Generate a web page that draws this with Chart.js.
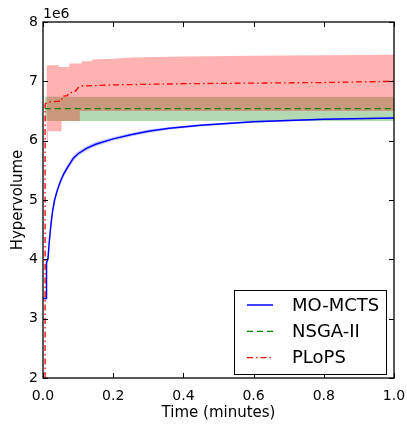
<!DOCTYPE html>
<html>
<head>
<meta charset="utf-8">
<script src="https://cdn.jsdelivr.net/npm/chart.js@4/dist/chart.umd.min.js"></script>
<style>
  html, body { margin: 0; padding: 0; background: #fff; }
  #wrap { width: 407px; height: 426px; }
</style>
</head>
<body>
<div id="wrap"><canvas id="js--chart"></canvas></div>
<script>
// hypervolume values are in units of 1e6
const tMcts = [0, 0.009, 0.01, 0.014, 0.018, 0.022, 0.027, 0.033, 0.04, 0.05, 0.06, 0.07, 0.086, 0.1, 0.124, 0.15, 0.2, 0.25, 0.3, 0.36, 0.45, 0.6, 0.8, 1.0];
const moMcts = [3.34, 3.34, 3.95, 4.0, 4.3, 4.55, 4.8, 5.0, 5.15, 5.32, 5.45, 5.55, 5.7, 5.78, 5.87, 5.94, 6.03, 6.1, 6.16, 6.21, 6.26, 6.32, 6.36, 6.38];
const moMctsLow = [3.3, 3.3, 3.9, 3.95, 4.24, 4.49, 4.74, 4.95, 5.1, 5.27, 5.4, 5.5, 5.65, 5.74, 5.83, 5.9, 6.0, 6.07, 6.13, 6.19, 6.24, 6.3, 6.35, 6.37];
const moMctsHigh = [3.38, 3.38, 4.0, 4.06, 4.36, 4.61, 4.86, 5.05, 5.2, 5.37, 5.5, 5.6, 5.75, 5.82, 5.91, 5.98, 6.06, 6.13, 6.19, 6.23, 6.28, 6.34, 6.37, 6.39];

const tNsga = [0.005, 1.0];
const nsga = [6.54, 6.54];
const nsgaLow = [6.33, 6.33];
const nsgaHigh = [6.74, 6.74];

const tPlops = [0.006, 0.006, 0.015, 0.053, 0.055, 0.07, 0.072, 0.09, 0.1, 0.11, 0.2, 0.4, 0.6, 0.8, 1.0];
const plops = [2.0, 6.62, 6.65, 6.67, 6.75, 6.76, 6.8, 6.82, 6.89, 6.92, 6.94, 6.96, 6.97, 6.98, 7.0];
const tPlopsBand = [0.01, 0.014, 0.014, 0.045, 0.045, 0.053, 0.053, 0.075, 0.075, 0.105, 0.105, 0.11, 0.11, 0.14, 0.14, 0.2, 0.25, 0.4, 0.6, 1.0];
const plopsLow = [5.98, 5.98, 6.16, 6.16, 6.16, 6.16, 6.33, 6.33, 6.33, 6.33, 6.5, 6.5, 6.5, 6.5, 6.5, 6.5, 6.5, 6.5, 6.5, 6.5];
const plopsHigh = [7.27, 7.27, 7.27, 7.27, 7.24, 7.24, 7.24, 7.24, 7.3, 7.3, 7.3, 7.3, 7.34, 7.34, 7.37, 7.38, 7.4, 7.42, 7.43, 7.45];

const xTicks = [0, 0.2, 0.4, 0.6, 0.8, 1.0];
const yTicks = [2, 3, 4, 5, 6, 7, 8];

const FONT = "'DejaVu Sans', sans-serif";

function pts(xs, ys) {
  return xs.map((x, i) => ({ x: x, y: ys[i] }));
}

function band(xs, ys, color, order) {
  return {
    data: pts(xs, ys), borderWidth: 0, borderColor: 'rgba(0,0,0,0)',
    backgroundColor: color, pointRadius: 0, order: order, isBand: true
  };
}

const datasets = [
  // green band
  Object.assign(band(tNsga, nsgaLow, 'rgba(0,0,0,0)', 6), { fill: false }),
  Object.assign(band(tNsga, nsgaHigh, 'rgba(0,128,0,0.3)', 6), { fill: '-1' }),
  // red band
  Object.assign(band(tPlopsBand, plopsLow, 'rgba(0,0,0,0)', 5), { fill: false }),
  Object.assign(band(tPlopsBand, plopsHigh, 'rgba(255,0,0,0.3)', 5), { fill: '-1' }),
  // blue band
  Object.assign(band(tMcts, moMctsLow, 'rgba(0,0,0,0)', 4), { fill: false }),
  Object.assign(band(tMcts, moMctsHigh, 'rgba(0,0,255,0.2)', 4), { fill: '-1' }),
  {
    label: 'MO-MCTS', data: pts(tMcts, moMcts), borderColor: '#0000ff', borderWidth: 1.5,
    pointRadius: 0, fill: false, order: 2
  },
  {
    label: 'NSGA-II', data: pts(tNsga, nsga), borderColor: '#007f00', borderWidth: 1.3,
    borderDash: [6, 4], pointRadius: 0, fill: false, order: 1
  },
  {
    label: 'PLoPS', data: pts(tPlops, plops), borderColor: '#ff0000', borderWidth: 1.3,
    borderDash: [6, 3, 1.5, 3], pointRadius: 0, fill: false, order: 0
  }
];

// frame, inward ticks, offset text and legend
const decorations = {
  id: 'decorations',
  afterDraw(chart) {
    const ctx = chart.ctx;
    const a = chart.chartArea;
    const xs = chart.scales.x, ys = chart.scales.y;
    ctx.save();
    ctx.strokeStyle = '#000';
    ctx.lineWidth = 1;
    ctx.beginPath();
    xTicks.forEach(v => {
      const px = Math.round(xs.getPixelForValue(v)) + 0.5;
      ctx.moveTo(px, a.bottom); ctx.lineTo(px, a.bottom - 5);
      ctx.moveTo(px, a.top); ctx.lineTo(px, a.top + 5);
    });
    yTicks.forEach(v => {
      const py = Math.round(ys.getPixelForValue(v)) + 0.5;
      ctx.moveTo(a.left, py); ctx.lineTo(a.left + 5, py);
      ctx.moveTo(a.right, py); ctx.lineTo(a.right - 5, py);
    });
    ctx.stroke();
    ctx.lineWidth = 1.3;
    ctx.strokeRect(a.left, a.top, a.right - a.left, a.bottom - a.top);

    ctx.fillStyle = '#000';
    ctx.font = '14px ' + FONT;
    ctx.textAlign = 'left';
    ctx.textBaseline = 'alphabetic';
    ctx.fillText('1e6', a.left, a.top - 4);

    // legend
    const lx = 234, ly = 290, lw = 152, lh = 84;
    ctx.fillStyle = '#fff';
    ctx.fillRect(lx, ly, lw, lh);
    ctx.lineWidth = 1;
    ctx.strokeStyle = '#000';
    ctx.strokeRect(lx + 0.5, ly + 0.5, lw, lh);
    ctx.font = '18px ' + FONT;
    ctx.textBaseline = 'middle';
    const items = chart.data.datasets.filter(d => !d.isBand);
    items.forEach((d, i) => {
      const cy = ly + 15 + i * 26.3;
      ctx.strokeStyle = d.borderColor;
      ctx.lineWidth = d.borderWidth;
      ctx.setLineDash(d.borderDash || []);
      ctx.beginPath();
      ctx.moveTo(lx + 13, cy); ctx.lineTo(lx + 39, cy);
      ctx.stroke();
      ctx.setLineDash([]);
      ctx.fillStyle = '#000';
      ctx.fillText(d.label, lx + 58, cy + 1);
    });
    ctx.restore();
  }
};

const config = {
  type: 'line',
  data: { datasets: datasets },
  options: {
    responsive: false,
    animation: false,
    layout: { padding: { top: 22, right: 13, left: 0, bottom: 0 } },
    plugins: { legend: { display: false }, tooltip: { enabled: false } },
    scales: {
      x: {
        type: 'linear', min: 0, max: 1,
        afterFit(s) { s.height = 48; s.paddingLeft = 0; s.paddingRight = 0; },
        afterBuildTicks(s) { s.ticks = xTicks.map(v => ({ value: v })); },
        grid: { display: false, drawTicks: false },
        border: { display: false },
        ticks: {
          padding: 10, color: '#000', font: { family: FONT, size: 14 },
          maxRotation: 0, callback: v => v.toFixed(1)
        },
        title: {
          display: true, text: 'Time (minutes)', color: '#000',
          font: { family: FONT, size: 15 }, padding: { top: 0, bottom: 4 }
        }
      },
      y: {
        type: 'linear', min: 2, max: 8,
        afterFit(s) { s.width = 43; s.paddingTop = 0; s.paddingBottom = 0; },
        afterBuildTicks(s) { s.ticks = yTicks.map(v => ({ value: v })); },
        grid: { display: false, drawTicks: false },
        border: { display: false },
        ticks: {
          padding: 5, color: '#000', font: { family: FONT, size: 14 },
          callback: v => String(v)
        },
        title: {
          display: true, text: 'Hypervolume', color: '#000',
          font: { family: FONT, size: 15 }, padding: { top: 9, bottom: 0 }
        }
      }
    }
  },
  plugins: [decorations]
};

const canvas = document.getElementById('js--chart');
canvas.width = 407;
canvas.height = 426;
const chart1 = new Chart(canvas, config);
</script>
</body>
</html>
